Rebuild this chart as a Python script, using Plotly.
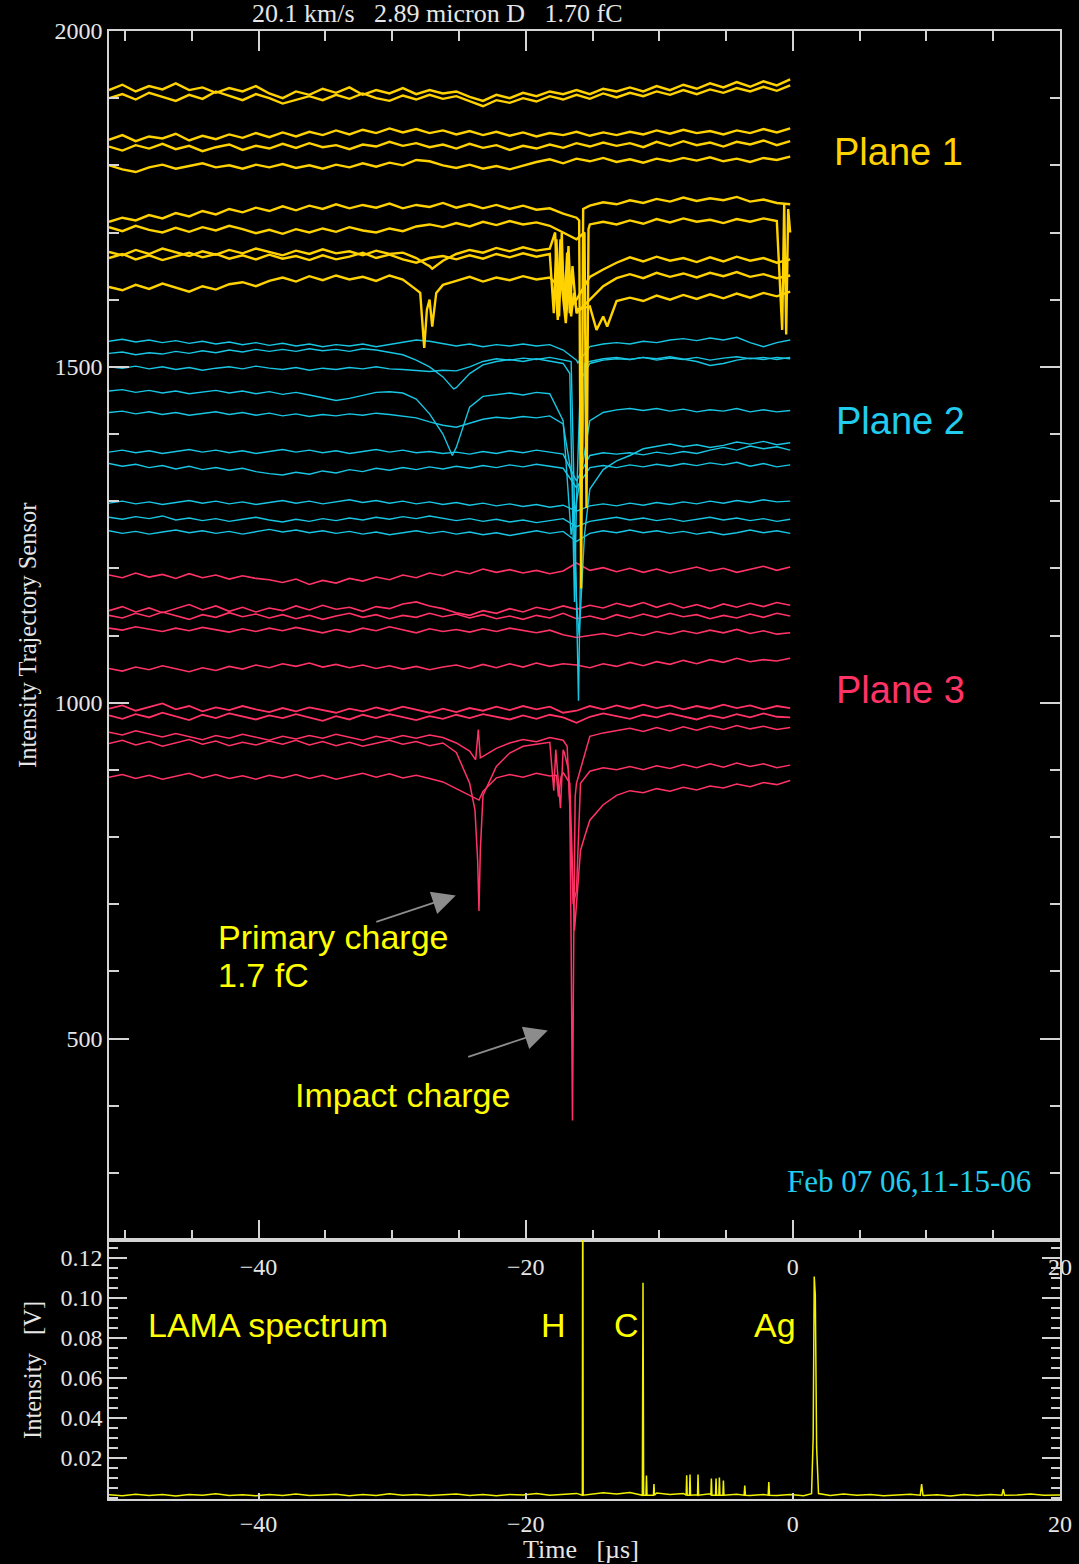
import plotly.graph_objects as go

# ---------------- data ----------------
# sample times (µs) of the trajectory-sensor traces
GRID = [round(-51.2 + i, 1) for i in range(52)]

# Plane 1 (yellow)
y1a = [1912, 1920, 1910, 1918, 1913, 1922, 1912, 1916, 1908, 1915, 1910, 1918, 1907,
       1900, 1910, 1905, 1914, 1908, 1916, 1905, 1912, 1907, 1915, 1906, 1912, 1907,
       1910, 1902, 1896, 1905, 1900, 1908, 1903, 1910, 1906, 1912, 1906, 1914, 1910,
       1916, 1910, 1918, 1912, 1920, 1914, 1922, 1916, 1924, 1917, 1925, 1919, 1928]
y1b = [1900, 1906, 1898, 1908, 1902, 1896, 1905, 1899, 1910, 1903, 1897, 1906, 1900,
       1892, 1898, 1903, 1897, 1905, 1899, 1907, 1900, 1896, 1904, 1898, 1905, 1899,
       1903, 1895, 1888, 1897, 1893, 1900, 1895, 1903, 1898, 1905, 1899, 1907, 1901,
       1908, 1903, 1910, 1905, 1912, 1906, 1913, 1908, 1915, 1910, 1917, 1911, 1919]
y2a = [1838, 1845, 1836, 1843, 1840, 1847, 1837, 1844, 1839, 1846, 1841, 1848, 1842,
       1849, 1843, 1850, 1845, 1852, 1846, 1853, 1848, 1855, 1849, 1854, 1848, 1852,
       1846, 1851, 1845, 1850, 1844, 1849, 1843, 1848, 1845, 1850, 1844, 1849, 1845,
       1850, 1846, 1852, 1847, 1853, 1848, 1851, 1846, 1852, 1848, 1854, 1849, 1855]
y2b = [1828, 1822, 1830, 1825, 1832, 1824, 1829, 1821, 1827, 1831, 1823, 1829, 1825,
       1832, 1826, 1833, 1827, 1830, 1824, 1831, 1828, 1835, 1829, 1833, 1827, 1831,
       1825, 1832, 1826, 1830, 1823, 1829, 1825, 1831, 1826, 1833, 1828, 1834, 1829,
       1833, 1827, 1835, 1829, 1836, 1830, 1834, 1828, 1835, 1831, 1837, 1830, 1836]
y2c = [1800, 1794, 1790, 1797, 1801, 1795, 1799, 1803, 1797, 1800, 1795, 1801, 1797,
       1802, 1796, 1800, 1795, 1801, 1797, 1803, 1798, 1804, 1800, 1808, 1806, 1800,
       1796, 1801, 1795, 1799, 1794, 1800, 1805, 1809, 1803, 1810, 1806, 1811, 1805,
       1809, 1804, 1810, 1806, 1811, 1807, 1812, 1806, 1810, 1805, 1811, 1808, 1813]
y3a = [1716, 1722, 1718, 1726, 1721, 1729, 1724, 1732, 1727, 1735, 1730, 1737, 1732,
       1739, 1733, 1740, 1735, 1742, 1736, 1741, 1737, 1743, 1736, 1741, 1738, 1744,
       1737, 1742, 1736, 1741, 1735, 1740, 1734, 1736, 1728, 1722, 1740, 1745, 1742,
       1748, 1744, 1750, 1746, 1752, 1747, 1751, 1748, 1753, 1746, 1749, 1744, 1742]
y3a_ex_x = [-16.0, -15.85, -15.7]
y3a_ex_y = [1718, 1170, 1735]
y3b = [1708, 1702, 1710, 1704, 1700, 1707, 1701, 1708, 1703, 1710, 1705, 1699, 1704,
       1698, 1705, 1700, 1706, 1701, 1708, 1703, 1700, 1706, 1702, 1709, 1712, 1708,
       1714, 1709, 1716, 1711, 1717, 1712, 1715, 1710, 1700, 1690, 1712, 1716, 1712,
       1718, 1713, 1720, 1715, 1721, 1716, 1719, 1714, 1720, 1716, 1721, 1717, 1700]
y3b_ex_x = [-15.6, -15.45, -15.3, -0.8, -0.65, -0.5, -0.35]
y3b_ex_y = [1700, 1290, 1705, 1555, 1742, 1548, 1735]
y3c = [1671, 1666, 1674, 1668, 1676, 1670, 1665, 1672, 1667, 1674, 1669, 1676, 1671,
       1666, 1673, 1668, 1675, 1669, 1672, 1666, 1673, 1668, 1670, 1662, 1650, 1658,
       1668, 1674, 1670, 1677, 1672, 1678, 1673, 1676, 1640, 1600, 1634, 1645, 1655,
       1663, 1657, 1664, 1658, 1662, 1656, 1663, 1657, 1664, 1658, 1662, 1655, 1660]
y3c_ex_x = [-27.4, -27.0, -17.8, -17.6, -17.4, -17.0, -16.8, -16.6]
y3c_ex_y = [1652, 1646, 1700, 1600, 1690, 1585, 1680, 1590]
y3e = [1662, 1668, 1660, 1666, 1659, 1664, 1670, 1663, 1668, 1661, 1666, 1660, 1667,
       1661, 1665, 1659, 1666, 1660, 1664, 1670, 1662, 1667, 1660, 1655, 1662, 1665,
       1660, 1666, 1661, 1668, 1663, 1669, 1664, 1668, 1620, 1580, 1600, 1620, 1632,
       1638, 1632, 1640, 1634, 1639, 1633, 1640, 1635, 1641, 1634, 1638, 1632, 1636]
y3e_ex_x = [-17.9, -17.7, -17.5, -17.3, -17.1, -16.9, -16.7, -16.5]
y3e_ex_y = [1580, 1690, 1575, 1700, 1590, 1670, 1580, 1650]
y3d = [1619, 1614, 1622, 1616, 1624, 1618, 1612, 1620, 1615, 1623, 1626, 1620, 1628,
       1633, 1627, 1635, 1629, 1636, 1630, 1634, 1628, 1636, 1630, 1615, 1600, 1622,
       1628, 1634, 1627, 1633, 1629, 1635, 1630, 1633, 1600, 1585, 1590, 1575, 1598,
       1603, 1598, 1606, 1600, 1607, 1601, 1608, 1602, 1609, 1603, 1610, 1605, 1612]
y3d_ex_x = [-27.9, -27.6, -27.4, -27.0, -26.7,
            -17.8, -17.6, -17.4, -17.0, -16.8, -16.6, -16.4, -14.7, -13.9]
y3d_ex_y = [1610, 1528, 1585, 1560, 1610,
            1625, 1570, 1640, 1565, 1620, 1575, 1610, 1555, 1560]

# Plane 2 (cyan)
c1 = [1538, 1541, 1537, 1540, 1536, 1539, 1535, 1538, 1534, 1537, 1533, 1536, 1532,
      1535, 1531, 1534, 1530, 1533, 1531, 1534, 1530, 1533, 1536, 1540, 1538, 1534,
      1531, 1534, 1530, 1533, 1531, 1534, 1531, 1533, 1525, 1510, 1530, 1534, 1536,
      1534, 1538, 1536, 1540, 1542, 1539, 1543, 1540, 1544, 1536, 1530, 1536, 1540]
c1_ex_x = [-16.1]
c1_ex_y = [1506]
c2 = [1520, 1522, 1518, 1521, 1519, 1523, 1520, 1524, 1521, 1525, 1522, 1526, 1523,
      1526, 1523, 1527, 1524, 1526, 1523, 1527, 1525, 1522, 1518, 1510, 1500, 1485,
      1469, 1490, 1503, 1508, 1511, 1508, 1512, 1509, 1505, 1300, 1505, 1510, 1512,
      1511, 1514, 1510, 1513, 1511, 1514, 1510, 1513, 1515, 1512, 1514, 1511, 1514]
c2_ex_x = [-25.4, -16.7, -16.35, -15.9]
c2_ex_y = [1467, 1490, 1150, 1480]
c3 = [1500, 1498, 1501, 1497, 1500, 1496, 1499, 1495, 1498, 1500, 1497, 1501, 1498,
      1496, 1499, 1495, 1498, 1496, 1499, 1497, 1500, 1497, 1496, 1494, 1493, 1495,
      1494, 1500, 1508, 1512, 1510, 1513, 1511, 1514, 1510, 1150, 1508, 1512, 1514,
      1511, 1514, 1512, 1515, 1511, 1508, 1502, 1505, 1510, 1513, 1511, 1514, 1512]
c3_ex_x = [-16.6, -16.3, -16.05, -15.9, -15.6]
c3_ex_y = [1508, 1250, 1003, 1200, 1505]
c4 = [1464, 1466, 1462, 1465, 1461, 1464, 1460, 1463, 1465, 1461, 1464, 1460, 1463,
      1459, 1462, 1458, 1454, 1450, 1453, 1458, 1462, 1463, 1461, 1452, 1430, 1400,
      1380, 1440, 1456, 1459, 1461, 1458, 1462, 1460, 1420, 1300, 1420, 1432, 1436,
      1438, 1435, 1438, 1434, 1437, 1433, 1436, 1434, 1438, 1433, 1436, 1433, 1435]
c4_ex_x = [-25.5, -16.6]
c4_ex_y = [1368, 1250]
c5 = [1432, 1434, 1430, 1433, 1429, 1432, 1428, 1431, 1433, 1429, 1432, 1428, 1431,
      1427, 1430, 1426, 1429, 1427, 1430, 1428, 1431, 1429, 1426, 1424, 1418, 1413,
      1410, 1416, 1422, 1425, 1423, 1426, 1424, 1427, 1415, 1150, 1318, 1347, 1360,
      1368, 1378, 1382, 1385, 1381, 1384, 1380, 1383, 1388, 1385, 1389, 1384, 1387]
c5_ex_x = [-16.5, -16.0, -15.6]
c5_ex_y = [1330, 1100, 1250]
c6 = [1373, 1376, 1372, 1375, 1371, 1374, 1377, 1373, 1376, 1372, 1375, 1371, 1374,
      1377, 1373, 1376, 1372, 1375, 1371, 1374, 1377, 1373, 1376, 1372, 1374, 1371,
      1373, 1370, 1374, 1371, 1375, 1372, 1376, 1373, 1370, 1330, 1368, 1372, 1370,
      1372, 1369, 1373, 1370, 1374, 1371, 1376, 1380, 1376, 1382, 1378, 1381, 1376]
c7 = [1356, 1352, 1355, 1350, 1353, 1348, 1352, 1347, 1350, 1346, 1349, 1344, 1341,
      1339, 1343, 1340, 1345, 1342, 1347, 1344, 1349, 1346, 1350, 1347, 1351, 1348,
      1352, 1349, 1353, 1350, 1354, 1351, 1355, 1352, 1349, 1320, 1350, 1353, 1350,
      1354, 1351, 1355, 1352, 1356, 1353, 1357, 1354, 1358, 1352, 1356, 1351, 1354]
c8 = [1297, 1300, 1296, 1299, 1295, 1298, 1301, 1297, 1300, 1296, 1299, 1295, 1298,
      1301, 1297, 1300, 1296, 1299, 1302, 1298, 1301, 1297, 1300, 1296, 1299, 1295,
      1298, 1294, 1297, 1293, 1296, 1292, 1295, 1291, 1294, 1285, 1293, 1296, 1293,
      1297, 1294, 1298, 1295, 1299, 1296, 1300, 1297, 1301, 1298, 1302, 1299, 1300]
c9 = [1276, 1273, 1277, 1274, 1278, 1272, 1275, 1271, 1274, 1270, 1273, 1276, 1272,
      1269, 1273, 1270, 1274, 1271, 1275, 1272, 1276, 1273, 1277, 1274, 1278, 1275,
      1271, 1274, 1270, 1273, 1269, 1272, 1268, 1271, 1274, 1262, 1270, 1273, 1276,
      1272, 1275, 1271, 1274, 1270, 1273, 1276, 1272, 1275, 1271, 1274, 1270, 1273]
c10 = [1256, 1252, 1255, 1251, 1254, 1257, 1253, 1256, 1252, 1255, 1251, 1254, 1258,
       1254, 1257, 1253, 1256, 1252, 1255, 1251, 1254, 1250, 1253, 1256, 1252, 1255,
       1251, 1254, 1250, 1253, 1249, 1252, 1256, 1252, 1255, 1240, 1252, 1256, 1253,
       1257, 1253, 1256, 1252, 1255, 1251, 1254, 1250, 1253, 1257, 1253, 1256, 1252]

# Plane 3 (red)
p1 = [1190, 1186, 1193, 1187, 1191, 1185, 1192, 1186, 1190, 1184, 1189, 1185, 1183,
      1179, 1184, 1176, 1182, 1178, 1185, 1181, 1187, 1183, 1190, 1186, 1193, 1189,
      1196, 1192, 1199, 1194, 1198, 1193, 1197, 1192, 1196, 1208, 1197, 1201, 1195,
      1200, 1194, 1199, 1193, 1198, 1202, 1196, 1200, 1194, 1199, 1203, 1197, 1202]
p2 = [1137, 1143, 1135, 1141, 1134, 1140, 1146, 1138, 1144, 1136, 1142, 1135, 1141,
      1137, 1144, 1138, 1145, 1139, 1142, 1136, 1143, 1140, 1147, 1150, 1144, 1140,
      1134, 1130, 1137, 1133, 1140, 1135, 1142, 1138, 1144, 1139, 1145, 1141, 1148,
      1143, 1149, 1142, 1148, 1141, 1146, 1140, 1147, 1142, 1148, 1143, 1149, 1145]
p3 = [1130, 1126, 1133, 1128, 1135, 1129, 1124, 1131, 1127, 1134, 1128, 1132, 1126,
      1131, 1125, 1130, 1124, 1129, 1133, 1127, 1131, 1125, 1130, 1127, 1133, 1128,
      1132, 1126, 1131, 1125, 1129, 1124, 1130, 1126, 1133, 1125, 1129, 1124, 1131,
      1126, 1132, 1127, 1133, 1128, 1131, 1125, 1130, 1126, 1132, 1127, 1133, 1129]
p4 = [1111, 1108, 1113, 1109, 1106, 1111, 1107, 1112, 1108, 1105, 1110, 1106, 1111,
      1107, 1112, 1108, 1104, 1109, 1105, 1111, 1107, 1113, 1108, 1104, 1110, 1106,
      1109, 1105, 1110, 1106, 1111, 1107, 1104, 1108, 1101, 1097, 1100, 1103, 1099,
      1104, 1100, 1106, 1102, 1107, 1103, 1108, 1104, 1109, 1103, 1107, 1102, 1104]
p5 = [1051, 1047, 1053, 1049, 1055, 1050, 1046, 1052, 1048, 1054, 1050, 1056, 1052,
      1058, 1054, 1059, 1053, 1057, 1052, 1056, 1051, 1055, 1050, 1054, 1049, 1053,
      1056, 1051, 1057, 1052, 1058, 1053, 1059, 1054, 1058, 1056, 1052, 1058, 1054,
      1060, 1055, 1061, 1057, 1063, 1058, 1064, 1060, 1066, 1061, 1064, 1062, 1066]
p6 = [991, 996, 988, 994, 999, 990, 995, 987, 993, 989, 995, 990, 986,
      992, 987, 993, 989, 985, 991, 987, 993, 988, 994, 989, 985, 991,
      986, 992, 988, 994, 989, 995, 990, 994, 985, 988, 995, 990, 996,
      991, 997, 992, 996, 990, 995, 991, 997, 992, 996, 990, 995, 992]
p7 = [981, 976, 983, 978, 985, 979, 974, 982, 977, 984, 979, 975, 981,
      977, 983, 978, 973, 980, 975, 982, 977, 983, 978, 974, 980, 976,
      982, 977, 983, 979, 975, 981, 976, 982, 978, 970, 979, 984, 980,
      976, 982, 978, 984, 979, 975, 981, 977, 983, 978, 984, 979, 978]
p8 = [956, 952, 958, 953, 949, 954, 950, 945, 951, 947, 953, 948, 944,
      950, 946, 951, 947, 953, 948, 944, 950, 946, 951, 947, 952, 948,
      940, 928, 920, 932, 940, 945, 942, 948, 944, 880, 950, 955, 958,
      962, 957, 963, 958, 964, 959, 965, 960, 966, 961, 965, 960, 963]
p8_ex_x = [-23.75, -23.55, -23.4, -16.9, -16.7, -16.6, -16.5, -16.4, -16.3]
p8_ex_y = [915, 960, 918, 935, 850, 640, 378, 660, 860]
p9 = [939, 944, 937, 942, 935, 940, 945, 938, 943, 936, 941, 937, 943,
      938, 944, 937, 942, 936, 941, 935, 940, 944, 938, 942, 936, 940,
      926, 880, 862, 905, 925, 935, 938, 941, 930, 720, 898, 903, 900,
      905, 900, 906, 902, 908, 903, 909, 904, 910, 905, 909, 903, 907]
p9_ex_x = [-23.8, -23.6, -23.5, -23.4,
           -17.9, -17.75, -17.4, -17.1, -16.8, -16.45, -15.9]
p9_ex_y = [840, 765, 690, 780,
           869, 930, 843, 925, 900, 700, 880]
p10 = [889, 893, 887, 892, 886, 890, 895, 888, 893, 887, 891, 886, 892,
       888, 893, 887, 892, 886, 891, 895, 889, 894, 888, 892, 887, 882,
       872, 862, 868, 888, 893, 889, 895, 891, 896, 700, 825, 848, 862,
       869, 866, 872, 868, 874, 870, 876, 873, 879, 875, 881, 878, 884]
p10_ex_x = [-23.5, -17.7, -17.55, -17.35, -16.7, -16.35, -15.9, -15.6]
p10_ex_y = [855, 892, 860, 890, 880, 661, 780, 800]

# LAMA spectrum (V) : baseline samples every 1 µs from -51.2
SPEC_GRID = [round(-51.2 + i, 1) for i in range(72)]
spec_base = [0.0014, 0.0009, 0.0017, 0.0011, 0.0015, 0.0008, 0.0016, 0.0012, 0.0019, 0.0010, 0.0014, 0.0009,
             0.0016, 0.0011, 0.0018, 0.0010, 0.0013, 0.0017, 0.0009, 0.0015, 0.0011, 0.0019, 0.0012, 0.0016,
             0.0010, 0.0014, 0.0018, 0.0011, 0.0015, 0.0009, 0.0016, 0.0013, 0.0020, 0.0012, 0.0017, 0.0021,
             0.0015, 0.0024, 0.0018, 0.0026, 0.0019, 0.0023, 0.0016, 0.0021, 0.0014, 0.0019, 0.0012, 0.0017,
             0.0010, 0.0015, 0.0011, 0.0016, 0.0009, 0.0014, 0.0010, 0.0018, 0.0012, 0.0015, 0.0009, 0.0013,
             0.0017, 0.0010, 0.0014, 0.0008, 0.0016, 0.0011, 0.0015, 0.0009, 0.0013, 0.0018, 0.0012, 0.0015]
peak_t = [-15.73, -11.22, -10.96, -10.40, -7.95, -7.70, -7.10, -6.10, -5.75, -5.50, -5.20,
          -3.60, -1.80, 9.64, 15.75]
peak_v = [0.200, 0.1075, 0.0110, 0.0068, 0.0112, 0.0115, 0.0115, 0.0095, 0.0095, 0.0100, 0.0085,
          0.0060, 0.0078, 0.0068, 0.0042]
peak_hw = [0.03, 0.05, 0.04, 0.04, 0.04, 0.04, 0.04, 0.04, 0.04, 0.04, 0.04,
           0.05, 0.05, 0.10, 0.10]
ag_t = [1.40, 1.52, 1.60, 1.68, 1.78, 1.92]
ag_v = [0.002, 0.030, 0.1106, 0.1015, 0.025, 0.002]

# ---------------- helpers ----------------
YELLOW = "#FFD200"
CYAN = "#18C6E4"
RED = "#FF3366"
TXT = "#E6E6E6"
W, H = 1079, 1564


def merge(base, ex_x=(), ex_y=()):
    assert len(base) == len(GRID), len(base)
    pts = sorted(list(zip(GRID, base)) + list(zip(ex_x, ex_y)))
    return [p[0] for p in pts], [p[1] for p in pts]


fig = go.Figure()


def add(base, color, width, ex_x=(), ex_y=()):
    xs, ys = merge(base, ex_x, ex_y)
    fig.add_trace(go.Scatter(x=xs, y=ys, mode="lines",
                             line=dict(color=color, width=width),
                             xaxis="x", yaxis="y", showlegend=False,
                             hoverinfo="skip"))


# draw order: red, cyan, yellow (yellow on top)
add(p1, RED, 1.6)
add(p2, RED, 1.6)
add(p3, RED, 1.6)
add(p4, RED, 1.6)
add(p5, RED, 1.6)
add(p6, RED, 1.8)
add(p7, RED, 1.8)
add(p8, RED, 1.5, p8_ex_x, p8_ex_y)
add(p9, RED, 1.5, p9_ex_x, p9_ex_y)
add(p10, RED, 1.5, p10_ex_x, p10_ex_y)

add(c1, CYAN, 1.4, c1_ex_x, c1_ex_y)
add(c2, CYAN, 1.4, c2_ex_x, c2_ex_y)
add(c3, CYAN, 1.4, c3_ex_x, c3_ex_y)
add(c4, CYAN, 1.4, c4_ex_x, c4_ex_y)
add(c5, CYAN, 1.4, c5_ex_x, c5_ex_y)
add(c6, CYAN, 1.4)
add(c7, CYAN, 1.4)
add(c8, CYAN, 1.4)
add(c9, CYAN, 1.4)
add(c10, CYAN, 1.4)

add(y1a, YELLOW, 2.4)
add(y1b, YELLOW, 2.4)
add(y2a, YELLOW, 2.4)
add(y2b, YELLOW, 2.4)
add(y2c, YELLOW, 2.4)
add(y3a, YELLOW, 2.4, y3a_ex_x, y3a_ex_y)
add(y3b, YELLOW, 2.4, y3b_ex_x, y3b_ex_y)
add(y3c, YELLOW, 2.4, y3c_ex_x, y3c_ex_y)
add(y3e, YELLOW, 2.4, y3e_ex_x, y3e_ex_y)
add(y3d, YELLOW, 2.4, y3d_ex_x, y3d_ex_y)

# spectrum
spts = []
windows = [(t - hw, t + hw) for t, hw in zip(peak_t, peak_hw)] + [(ag_t[0], ag_t[-1])]
for t, v in zip(SPEC_GRID, spec_base):
    if not any(a <= t <= b for a, b in windows):
        spts.append((t, v))
for t, v, hw in zip(peak_t, peak_v, peak_hw):
    spts += [(t - hw, 0.0012), (t, v), (t + hw, 0.0012)]
spts += list(zip(ag_t, ag_v))
spts.append((20.0, 0.0013))
spts.sort()
fig.add_trace(go.Scatter(x=[p[0] for p in spts], y=[p[1] for p in spts], mode="lines",
                         line=dict(color="#F2F200", width=1.5),
                         xaxis="x2", yaxis="y2", showlegend=False, hoverinfo="skip"))

# ---------------- layout ----------------
XD = [109 / W, 1060 / W]
Y_MAIN = [1 - 1240 / H, 1 - 31 / H]
Y_SPEC = [1 - 1499 / H, 1 - 1240 / H]
SERIF = "Liberation Serif"
SANS = "Liberation Sans"
AXC = "#D4D4D4"

common = dict(showline=True, linecolor=AXC, linewidth=1.5, showgrid=False,
              zeroline=False, ticks="inside", tickcolor=AXC, tickwidth=1.5,
              automargin=False,
              tickfont=dict(family=SERIF, size=24, color=TXT))

fig.update_layout(
    width=W, height=H, autosize=False,
    margin=dict(l=0, r=0, t=0, b=0, pad=0, autoexpand=False),
    paper_bgcolor="black", plot_bgcolor="black",
    xaxis=dict(domain=XD, range=[-51.2, 20], anchor="y", mirror="ticks",
               tick0=0, dtick=20, ticklen=20, ticklabelstandoff=4,
               minor=dict(ticks="inside", dtick=5, tick0=0, ticklen=10,
                          tickcolor=AXC, tickwidth=1.5), **common),
    yaxis=dict(domain=Y_MAIN, range=[200, 2000], anchor="x", mirror="ticks",
               tick0=0, dtick=500, ticklen=20,
               minor=dict(ticks="inside", dtick=100, tick0=0, ticklen=10,
                          tickcolor=AXC, tickwidth=1.5), **common),
    xaxis2=dict(domain=XD, range=[-51.2, 20], anchor="y2", mirror=True,
                tick0=0, dtick=20, ticklen=6, ticklabelstandoff=2, **common),
    yaxis2=dict(domain=Y_SPEC, range=[-0.0007, 0.1289], anchor="x2", mirror="ticks",
                tickvals=[0.02, 0.04, 0.06, 0.08, 0.10, 0.12],
                ticktext=["0.02", "0.04", "0.06", "0.08", "0.10", "0.12"],
                ticklen=18,
                minor=dict(ticks="inside", dtick=0.005, tick0=0, ticklen=9,
                           tickcolor=AXC, tickwidth=1.5), **common),
)


def px(x, y):
    return x / W, 1 - y / H


def label(text, x, y, color, size, family, xanchor="center", angle=0):
    xx, yy = px(x, y)
    fig.add_annotation(text=text, x=xx, y=yy, xref="paper", yref="paper",
                       xanchor=xanchor, yanchor="middle", showarrow=False,
                       textangle=angle, font=dict(color=color, size=size, family=family))


NB = "\u00a0"
label(f"20.1 km/s{NB*3}2.89 micron D{NB*3}1.70 fC", 437, 14, TXT, 26, SERIF)
label("Intensity Trajectory Sensor", 27, 636, TXT, 24.5, SERIF, angle=-90)
label(f"Intensity{NB*3}[V]", 32, 1370, TXT, 24.5, SERIF, angle=-90)
label(f"Time{NB*3}[\u00b5s]", 581, 1549, TXT, 26, SERIF)
label("Plane 1", 898, 152, "#FFD200", 38, SANS)
label("Plane 2", 900, 421, "#22CCEE", 38, SANS)
label("Plane 3", 900, 690, "#FF3366", 38, SANS)
label("Primary charge", 216, 937, "#FFFF00", 34, SANS, xanchor="left")
label("1.7 fC", 216, 975, "#FFFF00", 34, SANS, xanchor="left")
label("Impact charge", 293, 1095, "#FFFF00", 34, SANS, xanchor="left")
label("Feb 07 06,11-15-06", 909, 1181, "#22CCEE", 31, SERIF)
label("LAMA spectrum", 146, 1325, "#FFFF00", 34, SANS, xanchor="left")
label("H", 553, 1325, "#FFFF00", 34, SANS)
label("C", 626, 1325, "#FFFF00", 34, SANS)
label("Ag", 775, 1325, "#FFFF00", 34, SANS)

# arrows (data coordinates of head and tail)
for hx, hy, tx, ty in [(-25.24, 713, -31.3, 673), (-18.35, 512, -24.42, 472)]:
    fig.add_annotation(x=hx, y=hy, ax=tx, ay=ty, xref="x", yref="y",
                       axref="x", ayref="y", text="", showarrow=True,
                       arrowhead=2, arrowsize=2.6, arrowwidth=1.8,
                       arrowcolor="#8C8C8C")

fig.write_html(
    "out.html",
    config={"displayModeBar": False},
    post_script="document.body.style.margin='0';document.body.style.padding='0';"
                "document.body.style.background='black';"
                "document.documentElement.style.background='black';"
                "document.body.style.overflow='hidden';",
)
